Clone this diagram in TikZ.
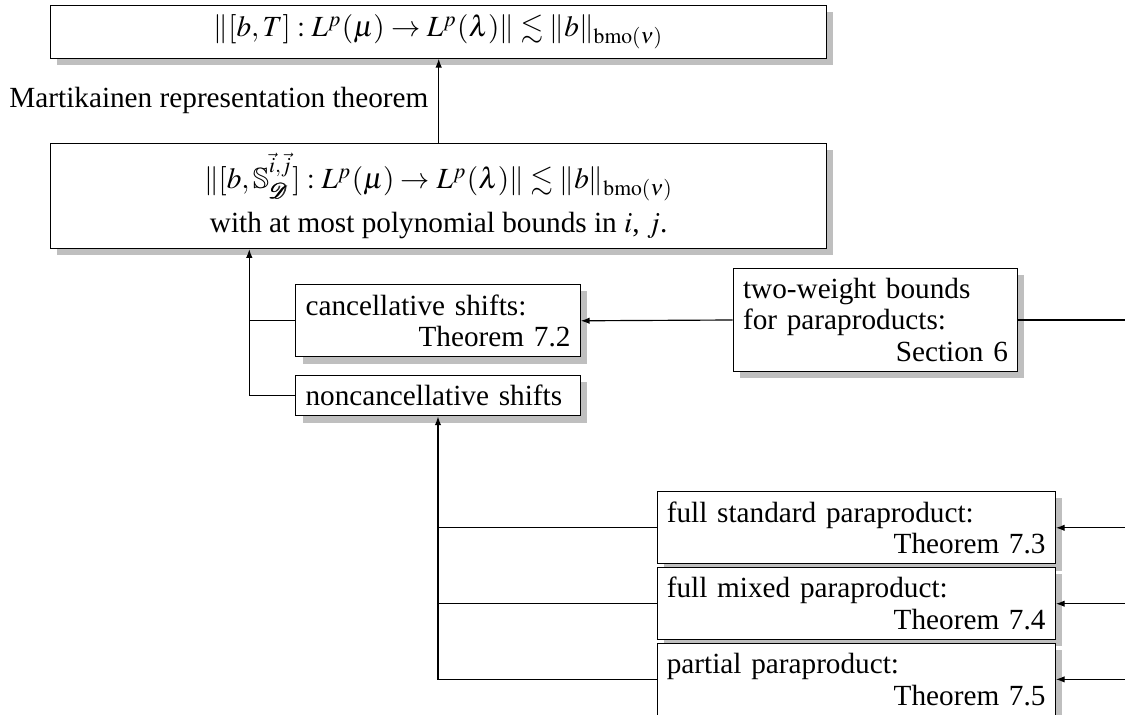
\documentclass[tikz,border=0pt]{standalone}
\usepackage{amsmath,amssymb}
\usepackage{mathptmx}
\usepackage[no-math]{fontspec}
\setmainfont{Liberation Serif}
\usetikzlibrary{shadows,arrows.meta}
\tikzset{
  box/.style={draw, fill=white, drop shadow, inner sep=3.33pt, line width=0.4pt,
    font=\fontsize{10}{10.8}\selectfont},
  tbox/.style={box, text width=90.6pt, align=left},
  pbox/.style={box, text width=129.5pt, align=left},
  wbox/.style={box, minimum width=265.4pt, align=center},
  conn/.style={draw, line width=0.4pt, -{Latex[length=3pt,width=2.2pt]}},
  plain/.style={draw, line width=0.4pt},
  lbl/.style={font=\fontsize{10}{10.8}\selectfont},
}
\begin{document}
\begin{tikzpicture}[x=0.342pt, y=-0.342pt]
\useasboundingbox (0,0) rectangle (1125,715);

\node[wbox] (top) at (438.7,31.7)
  {$\|[b,T] : L^p(\mu)\to L^p(\lambda)\| \lesssim \|b\|_{\mathrm{bmo}(\nu)}$};
\node[wbox, minimum height=34.2pt] (shift) at (438.7,195.9)
  {$\|[b,\mathbb{S}^{\raisebox{1.8pt}{$\scriptstyle\vec{i},\vec{j}$}}_{\pmb{\mathcal{D}}}] : L^p(\mu)\to L^p(\lambda)\| \lesssim \|b\|_{\mathrm{bmo}(\nu)}$\\[3pt]
   with at most polynomial bounds in $i$, $j$.};

\node[tbox] (canc) at (438,320.8)
  {cancellative shifts:\\\hspace*{\fill}Theorem 7.2};
\node[tbox] (nonc) at (438,395.7) {noncancellative shifts};

\node[tbox] (two) at (875.5,320)
  {two-weight bounds\\for paraproducts:\\\hspace*{\fill}Section 6};

\node[pbox] (fsp) at (856.2,527.8)
  {full standard paraproduct:\\\hspace*{\fill}Theorem 7.3};
\node[pbox] (fmp) at (856.2,603.7)
  {full mixed paraproduct:\\\hspace*{\fill}Theorem 7.4};
\node[pbox] (pp) at (856.2,679.4)
  {partial paraproduct:\\\hspace*{\fill}Theorem 7.5};

% top arrow with label
\draw[conn] (shift) -- node[midway,left,lbl] {Martikainen representation theorem} (top);

% left trunk
\coordinate (lt) at (249.3,0);
\draw[conn] (nonc.west) -| (lt |- shift.south);
\draw[plain] (canc.west) -- (lt |- canc.west);

% two-weight to cancellative
\draw[conn] (two.west) -- (canc.east);
\coordinate (r0) at (1125,320);
\draw[plain] (two.east) -- (r0 |- two.east);

% lower trunk
\coordinate (lt2) at (nonc.south);
\draw[conn] (pp.west) -| (nonc.south);
\draw[plain] (fsp.west) -- (lt2 |- fsp.west);
\draw[plain] (fmp.west) -- (lt2 |- fmp.west);

% right arrows
\coordinate (r1) at (1125,527.8);
\coordinate (r2) at (1125,603.7);
\coordinate (r3) at (1125,679.4);
\draw[conn] (r1) -- (fsp.east);
\draw[conn] (r2) -- (fmp.east);
\draw[conn] (r3) -- (pp.east);
\end{tikzpicture}
\end{document}
